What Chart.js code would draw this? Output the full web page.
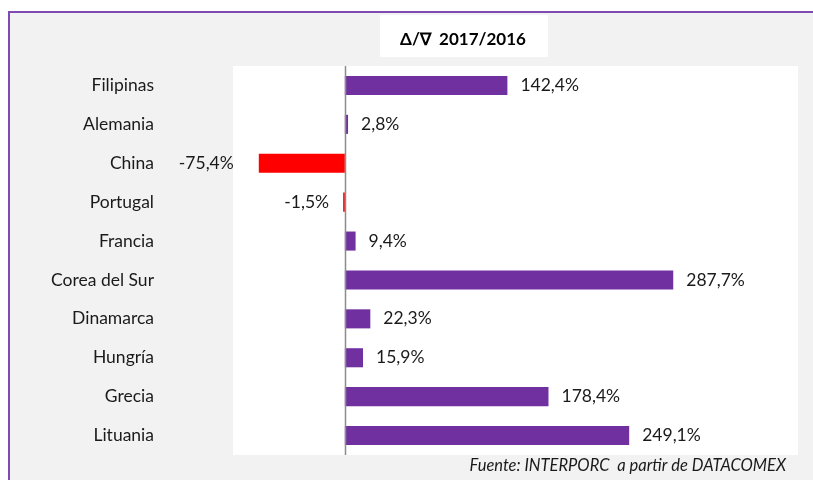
<!DOCTYPE html>
<html>
<head>
<meta charset="utf-8">
<script src="https://cdn.jsdelivr.net/npm/chart.js@4/dist/chart.umd.min.js"></script>
<style>
  html, body { margin: 0; padding: 0; background: #fff; overflow: hidden; width: 813px; height: 480px; }
  #frame {
    position: absolute; left: 8px; top: 11px; width: 900px; height: 600px;
    background: #f2f2f2;
    border-left: 2px solid #7f4bb3;
    border-top: 2px solid #7f4bb3;
  }
  #chart { position: absolute; left: 0; top: 0; }
</style>
</head>
<body>
<div id="frame"></div>
<canvas id="chart" width="813" height="480"></canvas>
<script>
/* ── Data ──────────────────────────────────────────────── */
const countries = ['Filipinas', 'Alemania', 'China', 'Portugal', 'Francia',
                   'Corea del Sur', 'Dinamarca', 'Hungría', 'Grecia', 'Lituania'];
const variation = [142.4, 2.8, -75.4, -1.5, 9.4, 287.7, 22.3, 15.9, 178.4, 249.1];
const titleText = 'Δ/∇  2017/2016';
const sourceText = 'Fuente: INTERPORC  a partir de DATACOMEX';

const PURPLE = '#7030a0';
const RED = '#ff0000';
const FONT = "Lato, 'Open Sans', sans-serif";

const fmt = v => v.toFixed(1).replace('.', ',') + '%';

/* ── Plot background, zero line, title box, footer ─────── */
const decor = {
  id: 'decor',
  beforeDraw(chart) {
    const { ctx, chartArea: a } = chart;
    ctx.save();
    ctx.fillStyle = '#ffffff';
    ctx.fillRect(a.left, a.top, a.right - a.left, a.bottom - a.top);
    // title box
    ctx.fillRect(380, 15, 168, 42);
    ctx.fillStyle = '#000';
    ctx.font = 'bold 17px ' + FONT;
    ctx.textAlign = 'center';
    ctx.textBaseline = 'middle';
    ctx.fillText(titleText, 463, 40);
    // source note
    ctx.font = 'italic 16.5px ' + FONT;
    ctx.textAlign = 'right';
    ctx.fillStyle = '#1a1a1a';
    ctx.fillText(sourceText, 786, 466);
    ctx.restore();
  },
  afterDatasetsDraw(chart) {
    const { ctx, chartArea: a, scales: { x } } = chart;
    const x0 = Math.round(x.getPixelForValue(0)) + 0.5;
    ctx.save();
    ctx.strokeStyle = '#8c8c8c';
    ctx.lineWidth = 1.5;
    ctx.beginPath();
    ctx.moveTo(x0, a.top);
    ctx.lineTo(x0, a.bottom);
    ctx.stroke();

    // value labels
    ctx.font = '17.5px ' + FONT;
    ctx.fillStyle = '#1a1a1a';
    ctx.textBaseline = 'middle';
    chart.getDatasetMeta(0).data.forEach((bar, i) => {
      const v = variation[i];
      if (v >= 0) {
        ctx.textAlign = 'left';
        ctx.fillText(fmt(v), bar.x + 13, bar.y);
      } else {
        ctx.textAlign = 'right';
        const gap = v < -50 ? 25 : 14;
        ctx.fillText(fmt(v), Math.min(bar.x, x0) - gap, bar.y);
      }
    });
    ctx.restore();
  }
};

/* ── Chart ─────────────────────────────────────────────── */
Chart.defaults.font.family = FONT;

new Chart(document.getElementById('chart'), {
  type: 'bar',
  data: {
    labels: countries,
    datasets: [{
      data: variation,
      backgroundColor: variation.map(v => v < 0 ? RED : PURPLE),
      borderWidth: 0,
      categoryPercentage: 1,
      barPercentage: 0.49
    }]
  },
  options: {
    indexAxis: 'y',
    responsive: false,
    maintainAspectRatio: false,
    animation: false,
    devicePixelRatio: 1,
    layout: { padding: { left: 0, top: 66, right: 15, bottom: 25 } },
    plugins: { legend: { display: false }, tooltip: { enabled: false } },
    scales: {
      x: {
        display: false,
        min: -98,
        max: 397
      },
      y: {
        // invisible tick marks push the labels away from the plot
        grid: { display: false, drawTicks: true, tickLength: 79 },
        border: { display: false },
        ticks: { padding: 0, color: '#1a1a1a', font: { size: 17.5 } },
        afterFit(scale) { scale.width = 233; }
      }
    }
  },
  plugins: [decor]
});
</script>
</body>
</html>
